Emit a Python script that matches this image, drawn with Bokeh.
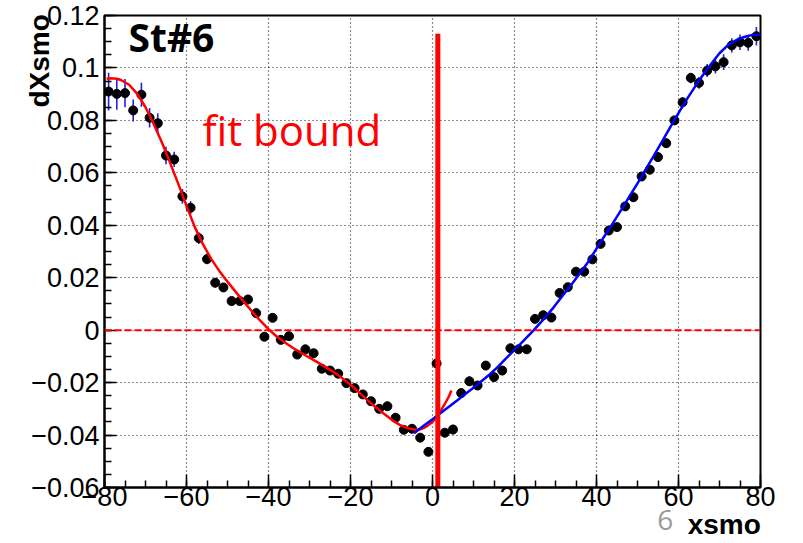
import math
from bokeh.plotting import figure
from bokeh.models import (Range1d, FixedTicker, CustomJSTickFormatter, Label,
                          Span, ColumnDataSource, LinearAxis)
from bokeh.embed import file_html
from bokeh.resources import INLINE

# ---------------- data ----------------
x_pts = [-79, -77, -75, -73, -71, -69, -67, -65, -63, -61,
         -59, -57, -55, -53, -51, -49, -47, -45, -43, -41,
         -39, -37, -35, -33, -31, -29, -27, -25, -23, -21,
         -19, -17, -15, -13, -11, -9, -7, -5, -3, -1,
         1, 3, 5, 7, 9, 11, 13, 15, 17, 19,
         21, 23, 25, 27, 29, 31, 33, 35, 37, 39,
         41, 43, 45, 47, 49, 51, 53, 55, 57, 59,
         61, 63, 65, 67, 69, 71, 73, 75, 77, 79]

y_pts = [0.0910, 0.0901, 0.0904, 0.0838, 0.0898, 0.0810, 0.0789, 0.0666, 0.0651, 0.0510,
         0.0467, 0.0351, 0.0271, 0.0181, 0.0163, 0.0111, 0.0111, 0.0117, 0.0065, -0.0025,
         0.0047, -0.0037, -0.0023, -0.0093, -0.0073, -0.0088, -0.0147, -0.0154, -0.0166, -0.0202,
         -0.0221, -0.0245, -0.0271, -0.0300, -0.0290, -0.0334, -0.0380, -0.0376, -0.0410, -0.0464,
         -0.0127, -0.0391, -0.0379, -0.0240, -0.0195, -0.0211, -0.0135, -0.0179, -0.0154, -0.0069,
         -0.0073, -0.0073, 0.0043, 0.0057, 0.0048, 0.0142, 0.0164, 0.0223, 0.0223, 0.0270,
         0.0329, 0.0380, 0.0393, 0.0472, 0.0507, 0.0586, 0.0612, 0.0660, 0.0713, 0.0800,
         0.0869, 0.0962, 0.0943, 0.0990, 0.1006, 0.1022, 0.1086, 0.1098, 0.1096, 0.1121]

y_err = [0.0072, 0.0060, 0.0054, 0.0042, 0.0046, 0.0037, 0.0038, 0.0033, 0.0029, 0.0028,
         0.0025, 0.0022, 0.0020, 0.0018, 0.0017, 0.0016, 0.0015, 0.0015, 0.0014, 0.0014,
         0.0013, 0.0013, 0.0013, 0.0013, 0.0013, 0.0013, 0.0013, 0.0013, 0.0013, 0.0013,
         0.0013, 0.0013, 0.0013, 0.0013, 0.0013, 0.0014, 0.0014, 0.0014, 0.0015, 0.0015,
         0.0016, 0.0016, 0.0018, 0.0018, 0.0018, 0.0016, 0.0015, 0.0015, 0.0014, 0.0014,
         0.0014, 0.0014, 0.0014, 0.0014, 0.0014, 0.0014, 0.0014, 0.0015, 0.0015, 0.0015,
         0.0015, 0.0015, 0.0016, 0.0016, 0.0016, 0.0017, 0.0017, 0.0017, 0.0018, 0.0018,
         0.0019, 0.0020, 0.0022, 0.0025, 0.0027, 0.0030, 0.0027, 0.0030, 0.0030, 0.0035]

# fit curve (left, red)
red_x = [-79.5, -78.5, -77, -76, -74, -72, -70, -68, -66, -64,
         -62, -60, -58, -56, -54, -52, -50, -48, -46, -44,
         -42, -40, -38, -36, -34, -32, -30, -28, -26, -24,
         -22, -20, -18, -16, -14, -12, -10, -8, -6, -4,
         -3, -2, -1, 0, 1, 2, 3, 4, 4.6]
red_y = [0.0959, 0.0961, 0.0959, 0.0954, 0.0936, 0.0901, 0.0850, 0.0786, 0.0716, 0.0638,
         0.0558, 0.0474, 0.0394, 0.0328, 0.0272, 0.0226, 0.0185, 0.0146, 0.0108, 0.0071,
         0.0036, 0.0004, -0.0024, -0.0047, -0.0068, -0.0087, -0.0105, -0.0123, -0.0142, -0.0161,
         -0.0183, -0.0208, -0.0236, -0.0265, -0.0292, -0.0317, -0.0341, -0.0361, -0.0374, -0.0380,
         -0.0378, -0.0372, -0.0362, -0.0350, -0.0331, -0.0308, -0.0281, -0.0253, -0.0230]

# fit curve (right, blue)
blue_x = [-4.5, -2, 0, 1.5, 4, 6, 8, 10, 12, 14,
          16, 18, 20, 22, 24.7, 27, 29.6, 32, 34, 36,
          38, 40, 42, 44, 46, 48, 50, 52, 54, 56,
          58, 60, 62, 64, 66, 68, 70, 72, 74, 76,
          78, 80]
blue_y = [-0.0393, -0.0363, -0.0340, -0.0322, -0.0292, -0.0268, -0.0243, -0.0220, -0.0194, -0.0168,
          -0.0139, -0.0107, -0.0075, -0.0044, 0.0000, 0.0040, 0.0088, 0.0137, 0.0176, 0.0218,
          0.0261, 0.0311, 0.0360, 0.0408, 0.0458, 0.0509, 0.0560, 0.0613, 0.0666, 0.0720,
          0.0774, 0.0828, 0.0880, 0.0928, 0.0974, 0.1016, 0.1056, 0.1086, 0.1105, 0.1118,
          0.1126, 0.1128]

fit_bound_x = 1.3
fit_bound_top = 0.113

x_ticks = [-80, -60, -40, -20, 0, 20, 40, 60, 80]
x_minor = [-80, -75, -70, -65, -60, -55, -50, -45, -40, -35, -30, -25, -20, -15, -10, -5,
           0, 5, 10, 15, 20, 25, 30, 35, 40, 45, 50, 55, 60, 65, 70, 75, 80]
y_ticks = [-0.06, -0.04, -0.02, 0.0, 0.02, 0.04, 0.06, 0.08, 0.1, 0.12]
y_minor = [-0.06, -0.055, -0.05, -0.045, -0.04, -0.035, -0.03, -0.025, -0.02, -0.015,
           -0.01, -0.005, 0.0, 0.005, 0.01, 0.015, 0.02, 0.025, 0.03, 0.035, 0.04,
           0.045, 0.05, 0.055, 0.06, 0.065, 0.07, 0.075, 0.08, 0.085, 0.09, 0.095,
           0.1, 0.105, 0.11, 0.115, 0.12]

x_title = "xsmo"
y_title = "dXsmo"
page_no = "6"

NB = "\u00a0"

# ---------------- figure ----------------
p = figure(width=803, height=543, x_range=Range1d(-80, 80), y_range=Range1d(-0.06, 0.12),
           output_backend="svg", toolbar_location=None,
           min_border_left=104, min_border_right=43, min_border_top=15, min_border_bottom=56)
p.background_fill_color = "white"
p.border_fill_color = "white"
p.outline_line_color = "black"
p.outline_line_width = 2

p.xaxis.ticker = FixedTicker(ticks=x_ticks, minor_ticks=x_minor)
p.yaxis.ticker = FixedTicker(ticks=y_ticks, minor_ticks=y_minor)
p.xaxis.formatter = CustomJSTickFormatter(code="""
    const v = Math.round(tick);
    if (v === 0) return "0";
    return (v < 0 ? "\\u2212" : "") + Math.abs(v).toString();
""")
p.yaxis.formatter = CustomJSTickFormatter(code="""
    if (Math.abs(tick) < 1e-9) return "0";
    const v = Math.round(tick * 100) / 100;
    return (v < 0 ? "\\u2212" : "") + Math.abs(v).toString();
""")

for ax in (p.xaxis, p.yaxis):
    ax.axis_line_width = 2
    ax.axis_line_color = "black"
    ax.major_tick_line_color = "black"
    ax.minor_tick_line_color = "black"
    ax.major_tick_line_width = 1.5
    ax.minor_tick_line_width = 1.5
    ax.major_tick_out = 0
    ax.minor_tick_out = 0
    ax.minor_tick_in = 7
    ax.major_label_text_font = "Liberation Sans"
    ax.major_label_text_font_size = "27px"
    ax.major_label_text_color = "black"
    ax.axis_label_text_font = "Liberation Sans"
    ax.axis_label_text_font_style = "bold"
    ax.axis_label_text_font_size = "28px"
    ax.axis_label_text_color = "black"
p.xaxis.major_tick_in = 13
p.yaxis.major_tick_in = 12
p.xaxis.major_label_standoff = -1
p.yaxis.major_label_standoff = 5

# ROOT-style y title at the top end of the axis (padded with no-break spaces)
p.yaxis.axis_label = NB * 49 + y_title
p.yaxis.axis_label_standoff = -27


def text_axis(txt, standoff, font, style, color):
    return LinearAxis(ticker=FixedTicker(ticks=[], minor_ticks=[]),
                      axis_line_color=None, major_tick_line_color=None,
                      minor_tick_line_color=None, major_tick_out=0, minor_tick_out=0,
                      major_tick_in=0, minor_tick_in=0, major_label_standoff=0,
                      axis_label=txt, axis_label_standoff=standoff,
                      axis_label_text_font=font, axis_label_text_font_style=style,
                      axis_label_text_font_size="28px", axis_label_text_color=color)


# x title at the right end of the axis, then the grey page number
p.add_layout(text_axis(NB * 75 + x_title, 0, "Liberation Sans", "bold", "black"), "below")
p.add_layout(text_axis(NB * 64 + page_no, -43, "Open Sans", "normal", "#9a9a9a"), "below")

p.xgrid.ticker = FixedTicker(ticks=x_ticks)
p.ygrid.ticker = FixedTicker(ticks=y_ticks)
for g in (p.xgrid, p.ygrid):
    g.grid_line_color = "black"
    g.grid_line_dash = "1 3"
    g.grid_line_width = 1.2
    g.grid_line_alpha = 0.9

# zero dashed line
p.add_layout(Span(location=0, dimension="width", line_color="red",
                  line_dash="7 3", line_width=2))

# data with error bars
src = ColumnDataSource(dict(x=x_pts, y=y_pts,
                            lo=[a - e for a, e in zip(y_pts, y_err)],
                            hi=[a + e for a, e in zip(y_pts, y_err)]))
p.segment(x0="x", y0="lo", x1="x", y1="hi", source=src, line_color="#2222dd", line_width=1.6)
p.scatter(x="x", y="y", source=src, size=9, fill_color="black", line_color="black")

# fits
p.line(red_x, red_y, line_color="red", line_width=2.5)
p.line(blue_x, blue_y, line_color="blue", line_width=2.5)

# fit bound vertical
p.segment(x0=[fit_bound_x], y0=[-0.06], x1=[fit_bound_x], y1=[fit_bound_top],
          line_color="red", line_width=5)

# texts inside the frame (screen units relative to frame bottom-left)
p.add_layout(Label(x=24, y=451, x_units="screen", y_units="screen", text="St#6",
                   text_font="Open Sans", text_font_style="bold", text_font_size="39px",
                   text_color="black", text_baseline="alphabetic", text_align="left"))
p.add_layout(Label(x=98, y=358, x_units="screen", y_units="screen", text="fit bound",
                   text_font="Open Sans", text_font_size="42px",
                   text_color="red", text_baseline="alphabetic", text_align="left"))

open("out.html", "w").write(file_html(p, INLINE))
